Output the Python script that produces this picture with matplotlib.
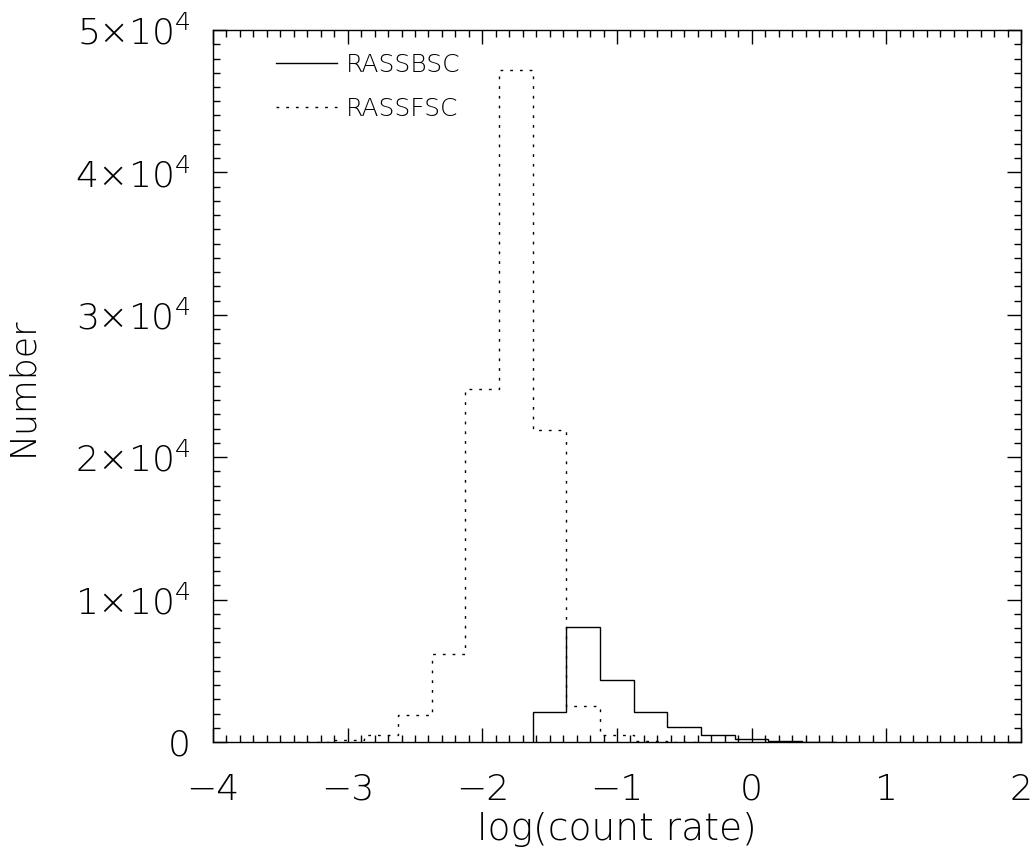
import numpy as np
import matplotlib
matplotlib.use("Agg")
import matplotlib.pyplot as plt
from matplotlib.ticker import MultipleLocator, FixedLocator, FixedFormatter

# Histogram bin edges (log count rate), bin width 0.25
edges_fsc = [-3.375, -3.125, -2.875, -2.625, -2.375, -2.125, -1.875, -1.625,
             -1.375, -1.125, -0.875, -0.625, -0.375]
rassfsc = [30, 120, 500, 1900, 6200, 24800, 47200, 21900, 2500, 500, 70, 20]

edges_bsc = [-1.625, -1.375, -1.125, -0.875, -0.625, -0.375, -0.125, 0.125,
             0.375, 0.625]
rassbsc = [2100, 8100, 4350, 2100, 1070, 470, 190, 90, 30]

ytick_vals = [0, 10000, 20000, 30000, 40000, 50000]
ytick_labels = ["0", "1×10$^{4}$", "2×10$^{4}$", "3×10$^{4}$", "4×10$^{4}$", "5×10$^{4}$"]
xtick_vals = [-4, -3, -2, -1, 0, 1, 2]
xtick_labels = ["\u22124", "\u22123", "\u22122", "\u22121", "0", "1", "2"]

plt.rcParams['font.family'] = ['DejaVu Sans']
plt.rcParams['font.weight'] = 'light'
plt.rcParams['mathtext.fontset'] = 'custom'
plt.rcParams['mathtext.rm'] = 'DejaVu Sans:light'
plt.rcParams['mathtext.it'] = 'DejaVu Sans:light'
plt.rcParams['mathtext.default'] = 'rm'

fig = plt.figure(figsize=(10.36, 8.63), dpi=100)
ax = fig.add_axes([0.2056, 0.1402, 0.7799, 0.8250])

ax.stairs(rassbsc, edges_bsc, color='black', linewidth=1.0, label='RASSBSC', baseline=0)
ax.stairs(rassfsc, edges_fsc, color='black', linewidth=1.0, linestyle=(0, (2, 5)),
          label='RASSFSC', baseline=0)

ax.set_xlim(-4, 2)
ax.set_ylim(0, 50000)

ax.xaxis.set_major_locator(FixedLocator(xtick_vals))
ax.xaxis.set_major_formatter(FixedFormatter(xtick_labels))
ax.xaxis.set_minor_locator(MultipleLocator(0.1))
ax.yaxis.set_major_locator(FixedLocator(ytick_vals))
ax.yaxis.set_major_formatter(FixedFormatter(ytick_labels))
ax.yaxis.set_minor_locator(MultipleLocator(1000))

ax.tick_params(which='both', direction='in', top=True, right=True, width=1.0, color='black')
ax.tick_params(axis='x', which='major', length=10, labelsize=26, pad=22)
ax.tick_params(axis='x', which='minor', length=5)
ax.tick_params(axis='y', which='major', length=10, labelsize=26, pad=16)
ax.tick_params(axis='y', which='minor', length=5)
for lab in ax.get_xticklabels() + ax.get_yticklabels():
    lab.set_fontweight('light')

for s in ax.spines.values():
    s.set_linewidth(1.0)

ax.set_xlabel('log(count rate)', fontsize=27, fontweight='light', labelpad=4)
ax.set_ylabel('Number', fontsize=25, fontweight='light', labelpad=26)

leg = ax.legend(loc='upper left', bbox_to_anchor=(0.05, 1.0), frameon=False,
                prop={'size': 18, 'weight': 'light'},
                handlelength=2.45, handletextpad=0.35, labelspacing=0.8)

fig.savefig('out.png', dpi=100)
